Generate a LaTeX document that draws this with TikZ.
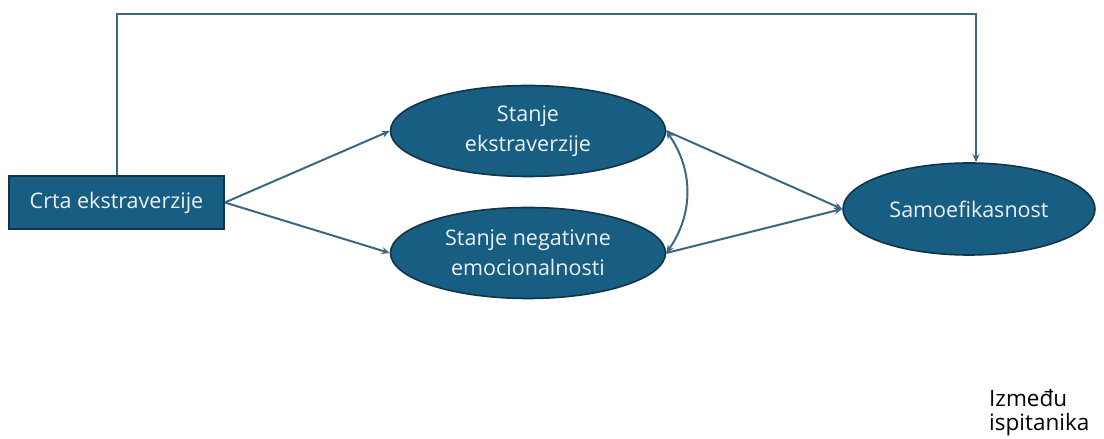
\documentclass[tikz,border=0pt]{standalone}
\usepackage{fontspec}
\setmainfont{Open Sans}
\usetikzlibrary{arrows.meta,shapes.geometric}
\definecolor{boxfill}{RGB}{24,93,130}
\definecolor{boxline}{RGB}{16,52,72}
\definecolor{conn}{RGB}{58,104,132}
\definecolor{txt}{RGB}{235,242,247}
\tikzset{
  x=1pt,y=1pt,
  rectnode/.style={draw=boxline,line width=1.6pt,fill=boxfill,text=txt,minimum width=215pt,minimum height=53pt,inner sep=0pt,font=\fontsize{21.5}{26}\selectfont},
  ellnode/.style={ellipse,draw=boxline,line width=1.6pt,fill=boxfill,text=txt,inner sep=0pt,align=center,font=\fontsize{21.5}{30}\selectfont},
  conn/.style={draw=conn,line width=2pt,-{Stealth[length=8pt,width=7pt]}},
  bconn/.style={draw=conn,line width=2pt,{Stealth[length=8pt,width=7pt]}-{Stealth[length=8pt,width=7pt]}},
}
\begin{document}
\begin{tikzpicture}
\useasboundingbox (0,0) rectangle (1104,439);
\node[rectnode] (crta) at (116.5,236.5) {Crta ekstraverzije};
\node[ellnode,minimum width=275pt,minimum height=91pt] (se) at (528,308) {Stanje\\ekstraverzije};
\node[ellnode,minimum width=275pt,minimum height=91pt] (sn) at (528,186) {Stanje negativne\\emocionalnosti};
\node[ellnode,minimum width=252pt,minimum height=92pt] (sam) at (969,230) {Samoefikasnost};
\node[align=left,anchor=west,font=\fontsize{22.5}{24}\selectfont,inner sep=0pt] (izm) at (989,26) {Između\\ispitanika};
\coordinate (tl) at (117,425);
\coordinate (tr) at (976,425);
\draw[conn] (crta.north -| tl) |- (tr) -- (tr |- sam.north);
\draw[conn] (crta.east) -- (se.west);
\draw[conn] (crta.east) -- (sn.west);
\draw[conn] (se.east) -- (sam.west);
\draw[conn] (sn.east) -- (sam.west);
\draw[bconn] (se.east) to[bend left=35] (sn.east);
\end{tikzpicture}
\end{document}
